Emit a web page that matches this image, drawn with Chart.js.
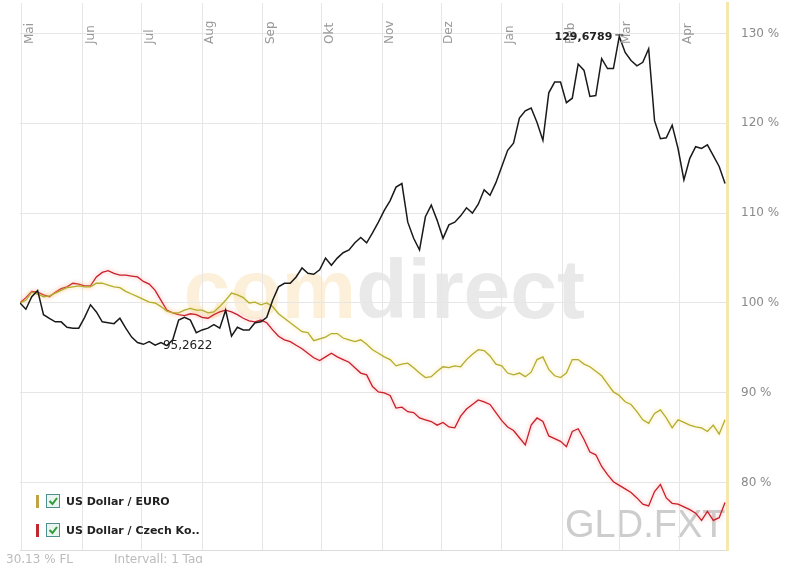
<!DOCTYPE html>
<html>
<head>
<meta charset="utf-8">
<script src="https://cdn.jsdelivr.net/npm/chart.js@4.4.1/dist/chart.umd.min.js"></script>
<style>
html, body { margin: 0; padding: 0; background: #fff; overflow: hidden; }
#wrap { position: relative; width: 792px; height: 563px; }
</style>
</head>
<body>
<div id="wrap"><canvas id="gld"></canvas></div>
<script>
// trading days counted from 1 May, one point every 3 days
const startDay = -1, stepDays = 3;
const monthDays = [0, 31, 61, 92, 123, 153, 184, 214, 245, 276, 305, 336];
const monthNames = ['Mai','Jun','Jul','Aug','Sep','Okt','Nov','Dez','Jan','Feb','Mar','Apr'];
const yTicks = [80, 90, 100, 110, 120, 130];

let gldArr = [100.0, 99.3, 100.7, 101.4, 98.7, 98.3, 97.9, 97.9, 97.3, 97.2,
  97.2, 98.4, 99.8, 99.0, 97.9, 97.8, 97.7, 98.3, 97.2, 96.2,
  95.6, 95.4, 95.7, 95.3, 95.6, 95.2622, 95.9, 98.1, 98.4, 98.1,
  96.7, 97.0, 97.2, 97.6, 97.2, 99.2, 96.3, 97.3, 97.0, 97.0,
  97.8, 97.9, 98.4, 100.3, 101.8, 102.2, 102.2, 102.9, 103.9, 103.3,
  103.2, 103.7, 105.0, 104.2, 105.0, 105.6, 105.9, 106.7, 107.3, 106.7,
  107.8, 109.0, 110.3, 111.4, 112.9, 113.3, 109.0, 107.2, 105.9, 109.6,
  110.9, 109.2, 107.2, 108.7, 109.0, 109.7, 110.6, 110.0, 111.0, 112.6,
  112.0, 113.4, 115.2, 117.0, 117.8, 120.6, 121.4, 121.7, 120.1, 118.1,
  123.4, 124.6, 124.6, 122.3, 122.8, 126.6, 125.9, 123.0, 123.1, 127.2,
  126.1, 126.1, 129.6789, 127.9, 127.0, 126.4, 126.8, 128.3, 120.3, 118.3,
  118.4, 119.8, 117.2, 113.7, 116.1, 117.4, 117.2, 117.6, 116.4, 115.2,
  113.3];
let eurArr = [100.0, 100.3, 101.2, 101.0, 100.7, 100.8, 101.1, 101.4, 101.7, 101.8,
  101.9, 101.8, 101.8, 102.2, 102.2, 102.0, 101.8, 101.7, 101.3, 101.0,
  100.7, 100.4, 100.1, 100.0, 99.6, 99.1, 98.9, 98.9, 99.2, 99.4,
  99.2, 99.2, 98.9, 99.0, 99.6, 100.3, 101.1, 100.9, 100.6, 100.0,
  100.1, 99.8, 100.0, 99.6, 98.8, 98.3, 97.8, 97.3, 96.8, 96.7,
  95.8, 96.0, 96.2, 96.6, 96.6, 96.1, 95.9, 95.7, 95.9, 95.4,
  94.8, 94.4, 94.0, 93.7, 93.0, 93.2, 93.3, 92.8, 92.2, 91.7,
  91.8, 92.4, 92.9, 92.8, 93.0, 92.9, 93.7, 94.3, 94.8, 94.7,
  94.1, 93.2, 93.0, 92.2, 92.0, 92.2, 91.8, 92.3, 93.7, 94.0,
  92.6, 91.9, 91.7, 92.2, 93.7, 93.7, 93.2, 92.9, 92.4, 91.9,
  91.0, 90.1, 89.7, 89.0, 88.7, 87.9, 87.0, 86.6, 87.7, 88.1,
  87.2, 86.1, 87.0, 86.7, 86.4, 86.2, 86.1, 85.7, 86.4, 85.4,
  87.0];
let czkArr = [100.0, 100.6, 101.3, 101.2, 100.9, 100.7, 101.2, 101.6, 101.8, 102.2,
  102.1, 101.9, 101.9, 102.9, 103.4, 103.6, 103.3, 103.1, 103.1, 103.0,
  102.9, 102.4, 102.1, 101.4, 100.3, 99.2, 98.9, 98.7, 98.6, 98.8,
  98.7, 98.4, 98.3, 98.7, 99.0, 99.2, 99.0, 98.7, 98.3, 98.0,
  97.9, 98.1, 97.8, 97.0, 96.3, 95.9, 95.7, 95.3, 94.9, 94.4,
  93.9, 93.6, 94.0, 94.4, 94.0, 93.7, 93.4, 92.8, 92.2, 92.0,
  90.7, 90.1, 90.0, 89.7, 88.3, 88.4, 87.9, 87.8, 87.2, 87.0,
  86.8, 86.4, 86.7, 86.2, 86.1, 87.4, 88.2, 88.7, 89.2, 89.0,
  88.7, 87.8, 86.9, 86.2, 85.8, 85.0, 84.2, 86.4, 87.2, 86.8,
  85.2, 84.9, 84.6, 84.0, 85.7, 86.0, 84.8, 83.4, 83.1, 81.8,
  80.9, 80.1, 79.7, 79.3, 78.9, 78.3, 77.6, 77.4, 79.0, 79.8,
  78.3, 77.7, 77.6, 77.3, 77.0, 76.6, 75.8, 76.8, 75.8, 76.1,
  77.8];

let dayArr = gldArr.map((v, i) => startDay + i * stepDays);
const pts = arr => arr.map((v, i) => ({x: dayArr[i], y: v}));
const fmt = v => v.toFixed(4).replace('.', ',');

const legendItems = [
  {text: 'US Dollar / EURO', color: '#bfa443'},
  {text: 'US Dollar / Czech Ko..', color: '#c0282c'}
];

const decor = {
  id: 'decor',
  beforeDraw(chart) {
    const ctx = chart.ctx;
    ctx.save();
    ctx.textBaseline = 'alphabetic';
    ctx.font = 'bold 84px "Liberation Sans"';
    ctx.textAlign = 'right';
    ctx.fillStyle = '#e9e9e9';
    ctx.fillText('direct', 585, 318);
    let w = ctx.measureText('direct').width;
    ctx.fillStyle = '#fcf0da';
    ctx.fillText('com', 585 - w, 318);
    ctx.textAlign = 'left';
    ctx.font = '38px "Liberation Sans"';
    ctx.fillStyle = '#cdcdcd';
    ctx.fillText('GLD.FXT', 565, 537);
    ctx.restore();
  },
  beforeDatasetDraw(chart, args) {
    let ds = chart.data.datasets[args.index];
    if (ds.glow) {
      chart.ctx.save();
      chart.ctx.shadowColor = ds.glow;
      chart.ctx.shadowBlur = 4;
    }
  },
  afterDatasetDraw(chart, args) {
    if (chart.data.datasets[args.index].glow) chart.ctx.restore();
  },
  afterDatasetsDraw(chart) {
    const ctx = chart.ctx, xs = chart.scales.x, ys = chart.scales.y;
    ctx.save();
    // month labels
    ctx.font = '12px "DejaVu Sans"';
    ctx.fillStyle = '#999';
    ctx.textAlign = 'left';
    ctx.textBaseline = 'middle';
    monthDays.forEach((d, i) => {
      ctx.save();
      ctx.translate(xs.getPixelForValue(d) + 8, 44);
      ctx.rotate(-Math.PI / 2);
      ctx.fillText(monthNames[i], 0, 0);
      ctx.restore();
    });
    // max / min of gold
    let hi = gldArr.indexOf(Math.max(...gldArr));
    let lo = gldArr.indexOf(Math.min(...gldArr));
    let hx = xs.getPixelForValue(dayArr[hi]), hy = ys.getPixelForValue(gldArr[hi]);
    let lx = xs.getPixelForValue(dayArr[lo]), ly = ys.getPixelForValue(gldArr[lo]);
    ctx.fillStyle = '#222';
    ctx.font = 'bold 11px "DejaVu Sans"';
    ctx.textAlign = 'right';
    ctx.fillText(fmt(gldArr[hi]), hx - 7, hy + 1);
    ctx.strokeStyle = '#222';
    ctx.lineWidth = 1;
    ctx.beginPath();
    ctx.moveTo(hx - 4, hy - 1.5); ctx.lineTo(hx + 4, hy - 1.5);
    ctx.stroke();
    ctx.font = '12px "DejaVu Sans"';
    ctx.textAlign = 'left';
    ctx.fillText(fmt(gldArr[lo]), lx - 4, ly);
    // legend
    legendItems.forEach((it, i) => {
      let cy = 501 + i * 29;
      ctx.fillStyle = it.color;
      ctx.fillRect(36, cy - 6, 3, 13);
      ctx.fillStyle = '#eaf5ef';
      ctx.fillRect(46.5, cy - 6.5, 13, 13);
      ctx.strokeStyle = '#4f8f8f';
      ctx.strokeRect(46.5, cy - 6.5, 13, 13);
      ctx.strokeStyle = '#2f9a3a';
      ctx.lineWidth = 2;
      ctx.beginPath();
      ctx.moveTo(49.5, cy); ctx.lineTo(52.5, cy + 3); ctx.lineTo(57, cy - 3);
      ctx.stroke();
      ctx.lineWidth = 1;
      ctx.fillStyle = '#222';
      ctx.font = 'bold 11px "DejaVu Sans"';
      ctx.textBaseline = 'middle';
      ctx.fillText(it.text, 66, cy + 1);
    });
    // footer
    ctx.font = '12px "DejaVu Sans"';
    ctx.fillStyle = '#bbb';
    ctx.textBaseline = 'alphabetic';
    ctx.fillText('30,13 % FL', 6, 563);
    ctx.fillText('Intervall: 1 Tag', 114, 563);
    ctx.restore();
  }
};

var gc = document.getElementById('gld').getContext('2d');
var myChart = new Chart(gc, {
  type: 'line',
  data: {
    datasets: [{
      label: 'GLD.FXT',
      data: pts(gldArr),
      borderColor: '#1a1a1a',
      borderWidth: 1.5,
      pointRadius: 0,
      tension: 0
    },
    {
      label: 'US Dollar / EURO',
      data: pts(eurArr),
      borderColor: '#b3ad2f',
      borderWidth: 1.3,
      glow: 'rgba(250,220,120,0.9)',
      pointRadius: 0,
      tension: 0
    },
    {
      label: 'US Dollar / Czech Ko..',
      data: pts(czkArr),
      borderColor: '#c8202a',
      borderWidth: 1.3,
      glow: 'rgba(255,150,150,0.9)',
      pointRadius: 0,
      tension: 0
    }]
  },
  options: {
    responsive: true,
    maintainAspectRatio: false,
    animation: false,
    layout: { padding: {left: 20, top: 3, right: 0, bottom: 0} },
    scales: {
      x: {
        type: 'linear',
        min: -1,
        max: 360,
        afterBuildTicks: s => { s.ticks = monthDays.map(v => ({value: v})); },
        afterFit: s => { s.height = 13; s.paddingLeft = 0; s.paddingRight = 0; },
        ticks: { display: false },
        grid: { color: '#e6e6e6', drawTicks: false },
        border: { color: '#dcdcdc' }
      },
      y: {
        position: 'right',
        min: 72.5,
        max: 133.4,
        afterBuildTicks: s => { s.ticks = yTicks.map(v => ({value: v})); },
        afterFit: s => { s.width = 65; s.paddingTop = 0; s.paddingBottom = 0; },
        ticks: {
          padding: 14,
          color: '#8a8a8a',
          font: {family: 'DejaVu Sans', size: 12},
          callback: v => v + ' %'
        },
        grid: { color: '#e6e6e6', drawTicks: false },
        border: { color: '#f5e7ae', width: 3 }
      }
    },
    plugins: {
      legend: { display: false },
      tooltip: { enabled: false }
    }
  },
  plugins: [decor]
});
</script>
</body>
</html>
